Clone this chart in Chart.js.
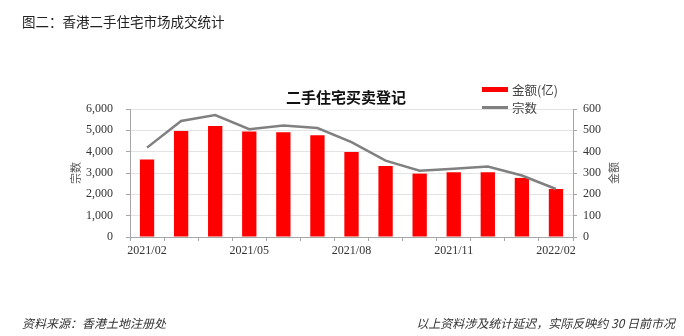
<!DOCTYPE html>
<html>
<head>
<meta charset="utf-8">
<script src="https://cdn.jsdelivr.net/npm/chart.js@4/dist/chart.umd.min.js"></script>
<style>
  html, body { margin: 0; padding: 0; background: #fff; }
  #page { position: relative; width: 684px; height: 336px; overflow: hidden; font-family: "Noto Sans CJK SC", sans-serif; color: #222; }
  #chart { position: absolute; left: 0; top: 0; }
  .abs { position: absolute; white-space: nowrap; }
  #head { left: 22px; top: 11px; font-size: 13.5px; }
  #title { left: 346px; top: 86px; transform: translateX(-50%); font-size: 15px; font-weight: bold; color: #111; }
  .legend-item { position: absolute; left: 482px; font-size: 12.5px; color: #444; display: flex; align-items: center; }
  .legend-item .key { width: 26px; margin-right: 4px; }
  .ytitle { font-size: 11px; color: #555; transform: translate(-50%, -50%) rotate(-90deg); }
  .foot { top: 314px; font-size: 12px; font-style: italic; color: #333; }
</style>
</head>
<body>
<div id="page">
  <canvas id="chart" width="684" height="336"></canvas>
  <div id="head" class="abs">图二：香港二手住宅市场成交统计</div>
  <div id="title" class="abs">二手住宅买卖登记</div>
  <div class="legend-item" style="top:80px"><span class="key" style="height:5px;background:#ff0000"></span>金额(亿)</div>
  <div class="legend-item" style="top:98px"><span class="key" style="height:2.5px;background:#808080"></span>宗数</div>
  <div class="abs ytitle" style="left:75px;top:173px">宗数</div>
  <div class="abs ytitle" style="left:613px;top:173px">金额</div>
  <div class="abs foot" style="left:22px">资料来源：香港土地注册处</div>
  <div class="abs foot" style="right:9px">以上资料涉及统计延迟，实际反映约 30 日前市况</div>
</div>
<script>
const months = ['2021/02', '2021/03', '2021/04', '2021/05', '2021/06', '2021/07', '2021/08',
  '2021/09', '2021/10', '2021/11', '2021/12', '2022/01', '2022/02'];
// bars, left axis
const amounts = [3630, 4970, 5200, 4950, 4910, 4770, 3990, 3330, 2970, 3030, 3030, 2770, 2250];
// line, right axis
const counts = [419, 544, 572, 505, 523, 511, 445, 358, 311, 320, 330, 288, 225];

const tickFont = { family: "'Liberation Serif', 'DejaVu Serif', serif", size: 12 };
const axisGray = '#a6a6a6';

new Chart(document.getElementById('chart'), {
  data: {
    labels: months,
    datasets: [
      {
        type: 'line',
        label: '宗数',
        data: counts,
        yAxisID: 'y1',
        borderColor: '#808080',
        borderWidth: 2.5,
        pointRadius: 0,
        tension: 0,
        order: 1
      },
      {
        type: 'bar',
        label: '金额(亿)',
        data: amounts,
        yAxisID: 'y',
        backgroundColor: '#ff0000',
        categoryPercentage: 1,
        barPercentage: 0.42,
        order: 2
      }
    ]
  },
  options: {
    responsive: false,
    animation: false,
    devicePixelRatio: 1,
    layout: { padding: { left: 80, right: 51, top: 109, bottom: 69 } },
    plugins: { legend: { display: false }, tooltip: { enabled: false } },
    scales: {
      x: {
        offset: true,
        grid: { offset: true, drawOnChartArea: false, tickLength: 4, color: axisGray },
        border: { color: axisGray },
        ticks: {
          autoSkip: false,
          maxRotation: 0,
          padding: 3,
          font: tickFont,
          color: '#333',
          callback: (v, i) => (i % 3 === 0 ? months[i] : '')
        },
        afterFit: (s) => { s.height = 30; }
      },
      y: {
        position: 'left',
        min: 0,
        max: 6000,
        ticks: {
          stepSize: 1000,
          padding: 13,
          font: tickFont,
          color: '#333',
          callback: (v) => v.toLocaleString('en-US')
        },
        grid: { color: '#e3e3e3', tickColor: axisGray, tickLength: 4 },
        border: { color: axisGray },
        afterFit: (s) => { s.width = 50; }
      },
      y1: {
        position: 'right',
        min: 0,
        max: 600,
        ticks: { stepSize: 100, padding: 6, font: tickFont, color: '#333' },
        grid: { drawOnChartArea: false, tickColor: axisGray, tickLength: 4 },
        border: { color: axisGray },
        afterFit: (s) => { s.width = 60; }
      }
    }
  }
});
</script>
</body>
</html>
